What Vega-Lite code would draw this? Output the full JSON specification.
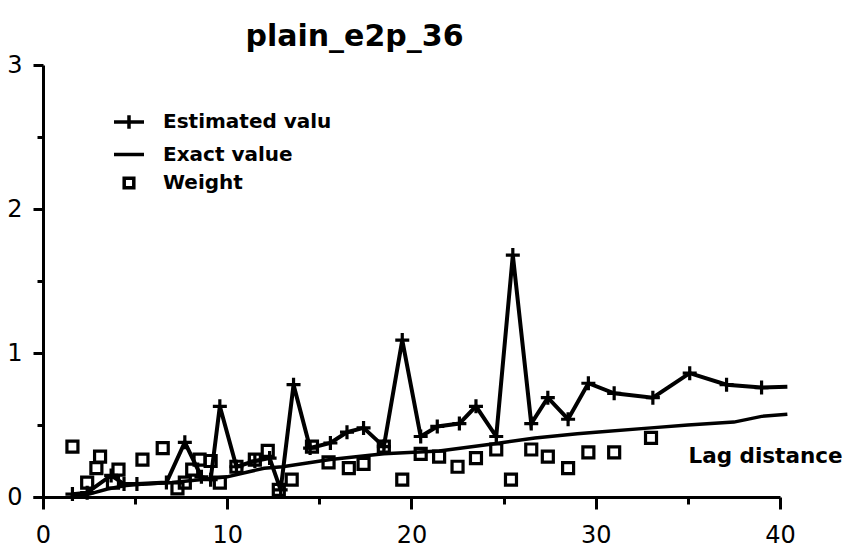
{
  "$schema": "https://vega.github.io/schema/vega-lite/v6.json",
  "autosize": "none",
  "width": 747,
  "height": 432,
  "padding": {"left": 33, "top": 65, "right": 70, "bottom": 53},
  "background": "white",
  "title": {
    "text": "plain_e2p_36",
    "anchor": "middle",
    "dx": -52,
    "offset": 1,
    "font": "DejaVu Sans",
    "fontSize": 30,
    "fontWeight": "bold",
    "color": "black"
  },
  "data": {
    "values": [
      {"series": "Estimated valu", "lag": 1.6, "value": 0.02},
      {"series": "Estimated valu", "lag": 2.4, "value": 0.03},
      {"series": "Estimated valu", "lag": 3.7, "value": 0.15},
      {"series": "Estimated valu", "lag": 4.4, "value": 0.09},
      {"series": "Estimated valu", "lag": 5.1, "value": 0.09},
      {"series": "Estimated valu", "lag": 6.7, "value": 0.1},
      {"series": "Estimated valu", "lag": 7.7, "value": 0.38},
      {"series": "Estimated valu", "lag": 8.6, "value": 0.14},
      {"series": "Estimated valu", "lag": 9.1, "value": 0.12},
      {"series": "Estimated valu", "lag": 9.6, "value": 0.63},
      {"series": "Estimated valu", "lag": 10.5, "value": 0.21},
      {"series": "Estimated valu", "lag": 11.5, "value": 0.25},
      {"series": "Estimated valu", "lag": 12.3, "value": 0.27},
      {"series": "Estimated valu", "lag": 12.9, "value": 0.05},
      {"series": "Estimated valu", "lag": 13.6, "value": 0.78},
      {"series": "Estimated valu", "lag": 14.5, "value": 0.34},
      {"series": "Estimated valu", "lag": 15.6, "value": 0.375},
      {"series": "Estimated valu", "lag": 16.5, "value": 0.45},
      {"series": "Estimated valu", "lag": 17.4, "value": 0.48},
      {"series": "Estimated valu", "lag": 18.5, "value": 0.35},
      {"series": "Estimated valu", "lag": 19.5, "value": 1.09},
      {"series": "Estimated valu", "lag": 20.5, "value": 0.42},
      {"series": "Estimated valu", "lag": 21.4, "value": 0.49},
      {"series": "Estimated valu", "lag": 22.6, "value": 0.51},
      {"series": "Estimated valu", "lag": 23.5, "value": 0.63},
      {"series": "Estimated valu", "lag": 24.6, "value": 0.42},
      {"series": "Estimated valu", "lag": 25.5, "value": 1.68},
      {"series": "Estimated valu", "lag": 26.5, "value": 0.51},
      {"series": "Estimated valu", "lag": 27.4, "value": 0.69},
      {"series": "Estimated valu", "lag": 28.5, "value": 0.54},
      {"series": "Estimated valu", "lag": 29.6, "value": 0.79},
      {"series": "Estimated valu", "lag": 31.0, "value": 0.72},
      {"series": "Estimated valu", "lag": 33.1, "value": 0.69},
      {"series": "Estimated valu", "lag": 35.1, "value": 0.86},
      {"series": "Estimated valu", "lag": 37.1, "value": 0.78},
      {"series": "Estimated valu", "lag": 39.0, "value": 0.76},
      {"series": "Estimated valu", "lag": 40.4, "value": 0.765},

      {"series": "Exact value", "lag": 1.5, "value": 0.0},
      {"series": "Exact value", "lag": 2.5, "value": 0.02},
      {"series": "Exact value", "lag": 3.5, "value": 0.055},
      {"series": "Exact value", "lag": 4.5, "value": 0.08},
      {"series": "Exact value", "lag": 5.5, "value": 0.09},
      {"series": "Exact value", "lag": 7.0, "value": 0.1},
      {"series": "Exact value", "lag": 8.5, "value": 0.12},
      {"series": "Exact value", "lag": 10.0, "value": 0.14},
      {"series": "Exact value", "lag": 11.0, "value": 0.17},
      {"series": "Exact value", "lag": 12.0, "value": 0.2},
      {"series": "Exact value", "lag": 13.0, "value": 0.21},
      {"series": "Exact value", "lag": 15.6, "value": 0.26},
      {"series": "Exact value", "lag": 18.5, "value": 0.3},
      {"series": "Exact value", "lag": 21.5, "value": 0.32},
      {"series": "Exact value", "lag": 24.5, "value": 0.37},
      {"series": "Exact value", "lag": 26.7, "value": 0.41},
      {"series": "Exact value", "lag": 29.0, "value": 0.44},
      {"series": "Exact value", "lag": 30.0, "value": 0.45},
      {"series": "Exact value", "lag": 33.0, "value": 0.48},
      {"series": "Exact value", "lag": 35.0, "value": 0.5},
      {"series": "Exact value", "lag": 37.5, "value": 0.52},
      {"series": "Exact value", "lag": 39.0, "value": 0.56},
      {"series": "Exact value", "lag": 40.4, "value": 0.575},

      {"series": "Weight", "lag": 1.6, "value": 0.35},
      {"series": "Weight", "lag": 2.4, "value": 0.1},
      {"series": "Weight", "lag": 2.9, "value": 0.2},
      {"series": "Weight", "lag": 3.1, "value": 0.28},
      {"series": "Weight", "lag": 3.8, "value": 0.1},
      {"series": "Weight", "lag": 4.1, "value": 0.19},
      {"series": "Weight", "lag": 5.4, "value": 0.26},
      {"series": "Weight", "lag": 6.5, "value": 0.34},
      {"series": "Weight", "lag": 7.3, "value": 0.06},
      {"series": "Weight", "lag": 7.7, "value": 0.1},
      {"series": "Weight", "lag": 8.1, "value": 0.19},
      {"series": "Weight", "lag": 8.5, "value": 0.26},
      {"series": "Weight", "lag": 9.1, "value": 0.25},
      {"series": "Weight", "lag": 9.6, "value": 0.1},
      {"series": "Weight", "lag": 10.5, "value": 0.21},
      {"series": "Weight", "lag": 11.5, "value": 0.26},
      {"series": "Weight", "lag": 12.2, "value": 0.32},
      {"series": "Weight", "lag": 12.8, "value": 0.05},
      {"series": "Weight", "lag": 13.5, "value": 0.12},
      {"series": "Weight", "lag": 14.6, "value": 0.35},
      {"series": "Weight", "lag": 15.5, "value": 0.24},
      {"series": "Weight", "lag": 16.6, "value": 0.2},
      {"series": "Weight", "lag": 17.4, "value": 0.23},
      {"series": "Weight", "lag": 18.5, "value": 0.35},
      {"series": "Weight", "lag": 19.5, "value": 0.12},
      {"series": "Weight", "lag": 20.5, "value": 0.3},
      {"series": "Weight", "lag": 21.5, "value": 0.28},
      {"series": "Weight", "lag": 22.5, "value": 0.21},
      {"series": "Weight", "lag": 23.5, "value": 0.27},
      {"series": "Weight", "lag": 24.6, "value": 0.33},
      {"series": "Weight", "lag": 25.4, "value": 0.12},
      {"series": "Weight", "lag": 26.5, "value": 0.33},
      {"series": "Weight", "lag": 27.4, "value": 0.28},
      {"series": "Weight", "lag": 28.5, "value": 0.2},
      {"series": "Weight", "lag": 29.6, "value": 0.31},
      {"series": "Weight", "lag": 31.0, "value": 0.31},
      {"series": "Weight", "lag": 33.0, "value": 0.41}
    ]
  },
  "encoding": {
    "x": {
      "field": "lag",
      "type": "quantitative",
      "scale": {"domain": [-0.54, 40], "nice": false, "zero": false},
      "axis": {
        "title": "Lag distance",
        "titleX": 732,
        "titleY": -35,
        "titleAlign": "center",
        "titleBaseline": "alphabetic",
        "titleFont": "DejaVu Sans",
        "titleFontSize": 21.5,
        "titleFontWeight": "bold",
        "titleColor": "black",
        "values": [0, 5, 10, 15, 20, 25, 30, 35, 40],
        "labelExpr": "datum.value % 10 === 0 ? format(datum.value, 'd') : ''",
        "labelFont": "DejaVu Sans",
        "labelFontSize": 24,
        "labelColor": "black",
        "labelPadding": 14,
        "labelFlush": false,
        "labelOverlap": false,
        "domainColor": "black",
        "domainWidth": 3,
        "tickColor": "black",
        "tickWidth": 3,
        "tickSize": {"condition": {"test": "datum.value % 10 === 0", "value": 12}, "value": 7},
        "grid": false
      }
    },
    "y": {
      "field": "value",
      "type": "quantitative",
      "scale": {"domain": [0, 3], "nice": false},
      "axis": {
        "title": null,
        "offset": -10,
        "values": [0, 0.5, 1, 1.5, 2, 2.5, 3],
        "labelExpr": "datum.value % 1 === 0 ? format(datum.value, 'd') : ''",
        "labelFont": "DejaVu Sans",
        "labelFontSize": 24,
        "labelColor": "black",
        "labelPadding": 11,
        "labelFlush": false,
        "labelOverlap": false,
        "domainColor": "black",
        "domainWidth": 3,
        "tickColor": "black",
        "tickWidth": 3,
        "tickSize": {"condition": {"test": "datum.value % 1 === 0", "value": 10}, "value": 6},
        "grid": false
      }
    }
  },
  "layer": [
    {
      "transform": [{"filter": "datum.series === 'Exact value'"}],
      "mark": {"type": "line", "color": "black", "strokeWidth": 3.5},
      "encoding": {}
    },
    {
      "transform": [{"filter": "datum.series === 'Estimated valu'"}],
      "mark": {"type": "line", "color": "black", "strokeWidth": 4},
      "encoding": {}
    },
    {
      "transform": [{"filter": "datum.series === 'Estimated valu' && datum.lag <= 40"}],
      "mark": {"type": "point", "shape": "M-1,0H1M0,-1V1", "size": 196, "filled": false, "stroke": "black", "strokeWidth": 3.2, "opacity": 1},
      "encoding": {}
    },
    {
      "transform": [{"filter": "datum.series === 'Weight'"}],
      "mark": {"type": "point", "shape": "square", "size": 121, "filled": false, "stroke": "black", "strokeWidth": 3.2, "opacity": 1},
      "encoding": {}
    },
    {
      "transform": [{"filter": "false"}],
      "mark": {"type": "point", "filled": false, "stroke": "black", "strokeWidth": 3.5, "opacity": 1},
      "encoding": {
        "shape": {
          "field": "series",
          "type": "nominal",
          "scale": {
            "domain": ["Estimated valu", "Exact value", "Weight"],
            "range": ["M-1,0H1M0,-0.45V0.45", "M-1,0H1", "M-0.32,-0.32H0.32V0.32H-0.32Z"]
          },
          "legend": {
            "title": null,
            "orient": "none",
            "legendX": 79,
            "legendY": 40,
            "padding": 0,
            "symbolSize": 900,
            "symbolStrokeWidth": 3.5,
            "symbolStrokeColor": "black",
            "symbolFillColor": "transparent",
            "symbolOpacity": 1,
            "labelFont": "DejaVu Sans",
            "labelFontWeight": "bold",
            "labelFontSize": 20,
            "labelColor": "black",
            "labelLimit": 400,
            "labelOffset": 17,
            "rowPadding": 1.5
          }
        }
      }
    }
  ],
  "config": {
    "view": {"stroke": null}
  }
}
